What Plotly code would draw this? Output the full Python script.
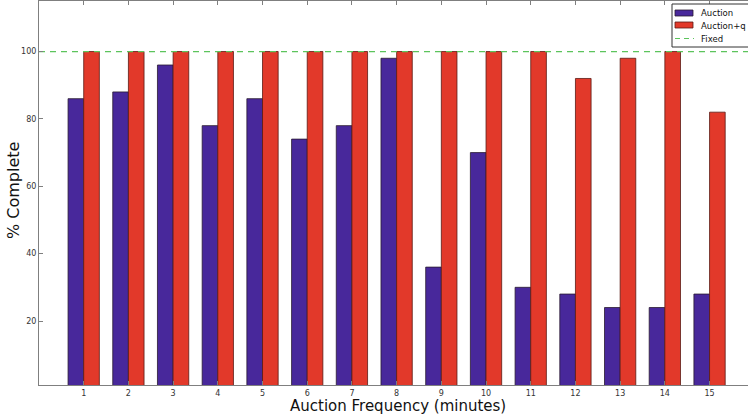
import plotly.graph_objects as go

# Completion rates per auction frequency
freq_minutes = list(range(1, 16))
auction = [86, 88, 96, 78, 86, 74, 78, 98, 36, 70, 30, 28, 24, 24, 28]
auction_q = [100, 100, 100, 100, 100, 100, 100, 100, 100, 100, 100, 92, 98, 100, 82]
fixed_level = 100
tick_labels = [str(v) for v in freq_minutes]
y_ticks = [20, 40, 60, 80, 100]
series_names = ["Auction", "Auction+q", "Fixed"]

BLUE = "#48289b"
RED = "#e2392a"
GREEN = "#5cc45c"
AXIS = "#7f7f7f"
FONT = "DejaVu Sans"

W, H = 748, 417
M_L, M_T, M_B = 39, 1, 32
PW, PH = W - M_L, H - M_T - M_B

bar_w = 0.35
x_range = [0, 15.86]


def px_x(px):
    return (px - M_L) / PW


def px_y(py):
    return (H - M_B - py) / PH


fig = go.Figure()
fig.add_trace(go.Bar(
    x=freq_minutes, y=auction, name=series_names[0],
    width=bar_w, offset=-bar_w,
    marker=dict(color=BLUE, line=dict(color="#2a1a30", width=0.8)),
))
fig.add_trace(go.Bar(
    x=freq_minutes, y=auction_q, name=series_names[1],
    width=bar_w, offset=0,
    marker=dict(color=RED, line=dict(color="#5a1a14", width=0.8)),
))
fig.add_trace(go.Scatter(
    x=[x_range[0], 16], y=[fixed_level, fixed_level], name=series_names[2],
    mode="lines", line=dict(color=GREEN, width=1.2, dash="6px,5px"),
))

# Compact boxed legend in the upper right corner
shapes = [
    dict(type="rect", xref="paper", yref="paper",
         x0=px_x(672), x1=px_x(760), y0=px_y(47), y1=px_y(4),
         line=dict(color="#333333", width=1), fillcolor="white", layer="above"),
    dict(type="rect", xref="paper", yref="paper",
         x0=px_x(675), x1=px_x(693), y0=px_y(16), y1=px_y(10),
         line=dict(color="#2a1a30", width=0.8), fillcolor=BLUE, layer="above"),
    dict(type="rect", xref="paper", yref="paper",
         x0=px_x(675), x1=px_x(693), y0=px_y(28), y1=px_y(22),
         line=dict(color="#5a1a14", width=0.8), fillcolor=RED, layer="above"),
    dict(type="line", xref="paper", yref="paper",
         x0=px_x(675), x1=px_x(694), y0=px_y(38.5), y1=px_y(38.5),
         line=dict(color=GREEN, width=1.2, dash="5px,4px"), layer="above"),
]
legend_text = [
    dict(text=name, xref="paper", yref="paper", x=px_x(699), y=px_y(cy),
         xanchor="left", yanchor="middle", showarrow=False,
         font=dict(size=8.5, family=FONT, color="#111111"))
    for name, cy in zip(series_names, [13, 25.5, 38.5])
]

fig.update_layout(
    width=W, height=H,
    margin=dict(l=M_L, r=0, t=M_T, b=M_B, autoexpand=False),
    paper_bgcolor="white", plot_bgcolor="white",
    barmode="overlay",
    font=dict(family=FONT, color="#222222"),
    showlegend=False,
    xaxis=dict(
        range=x_range, tickmode="array", tickvals=freq_minutes, ticktext=tick_labels,
        ticks="inside", ticklen=4, tickcolor=AXIS, tickfont=dict(size=8, color="#333333"),
        showline=True, linecolor=AXIS, linewidth=1, mirror="ticks",
        showgrid=False, zeroline=False,
    ),
    yaxis=dict(
        range=[1, 115], tickmode="array", tickvals=y_ticks,
        ticks="inside", ticklen=4, tickcolor=AXIS, tickfont=dict(size=8, color="#333333"),
        showline=True, linecolor=AXIS, linewidth=1, mirror=False,
        showgrid=False, zeroline=False,
    ),
    shapes=shapes,
    annotations=legend_text + [
        dict(text="% Complete", xref="paper", yref="paper", x=px_x(13), y=px_y(191),
             xanchor="center", yanchor="middle", textangle=-90, showarrow=False,
             font=dict(size=16, family=FONT, color="#111111")),
        dict(text="Auction Frequency (minutes)", xref="paper", yref="paper",
             x=px_x(398), y=px_y(406), xanchor="center", yanchor="middle", showarrow=False,
             font=dict(size=15, family=FONT, color="#111111")),
    ],
)

fig.write_html("out.html")
